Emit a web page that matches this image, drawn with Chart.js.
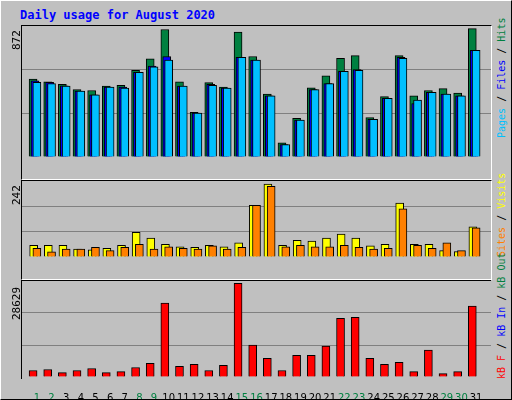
<!DOCTYPE html>
<html>
<head>
<meta charset="utf-8">
<script src="https://cdn.jsdelivr.net/npm/chart.js@4"></script>
<style>
  body { margin: 0; background: #fff; }
  #frame { position: absolute; left: 0; top: 0; width: 510px; height: 398px; background: #c0c0c0;
           border: 1px solid #000; border-top-color: #fff; border-left-color: #fff; }
  .panel { position: absolute; left: 20px; width: 469px; border: 1px solid #000;
           border-right-color: #fff; border-bottom-color: #fff; background: #c0c0c0; }
  .panel canvas { position: absolute; left: 0; top: 0; }
  .vlab { position: absolute; font: 10px "DejaVu Sans Mono", monospace; white-space: nowrap;
          transform-origin: left top; transform: rotate(-90deg); }
  #title { position: absolute; left: 19px; top: 7px; font: bold 12px "DejaVu Sans Mono", monospace; color: #0000ff; }
</style>
</head>
<body>
<div id="frame">
  <div id="title">Daily usage for August 2020</div>
  <div class="panel" style="top:24px;height:153px"><canvas id="c1" width="469" height="153"></canvas></div>
  <div class="panel" style="top:179px;height:98px"><canvas id="c2" width="469" height="98"></canvas></div>
  <div class="panel" style="top:279px;height:98px;border-bottom:none;border-right:none"></div>
  <canvas id="c3" width="469" height="118" style="position:absolute;left:21px;top:280px"></canvas>

  <div class="vlab" style="left:9px;top:49px;font-size:11px">872</div>
  <div class="vlab" style="left:9px;top:204px;font-size:11px">242</div>
  <div class="vlab" style="left:9px;top:319px;font-size:11px">28629</div>
  <div class="vlab" style="left:495px;top:137px"><span style="color:#00c0ff">Pages</span> / <span style="color:#0000ff">Files</span> / <span style="color:#008040">Hits</span></div>
  <div class="vlab" style="left:495px;top:256px"><span style="color:#ff8000">Sites</span> / <span style="color:#ffff00">Visits</span></div>
  <div class="vlab" style="left:495px;top:378px"><span style="color:#ff0000">kB F</span> / <span style="color:#0000ff">kB In</span> / <span style="color:#008040">kB Out</span></div>
</div>
<script>
const days = ['1','2','3','4','5','6','7','8','9','10','11','12','13','14','15','16','17','18','19','20','21','22','23','24','25','26','27','28','29','30','31']
const weekend = [1, 2, 8, 9, 15, 16, 22, 23, 29, 30]
const hits = [529,511,493,458,452,481,487,588,667,866,511,304,505,475,848,683,428,97,262,470,552,671,689,268,410,689,416,452,464,434,872]
const files = [517,507,483,448,422,475,475,576,618,683,481,298,493,469,677,659,416,85,251,458,499,582,594,256,399,677,363,440,428,416,724]
const pages = [507,499,481,448,422,475,469,576,612,659,481,298,487,469,677,659,416,85,251,458,499,582,588,256,399,671,387,440,428,416,724]
const visits = [39,39,39,26,24,29,39,82,63,42,34,32,39,34,47,171,242,39,55,53,63,76,63,37,42,179,42,42,21,18,100]
const sites = [29,17,26,26,32,21,32,42,26,34,29,26,37,26,32,171,234,34,39,34,34,39,32,26,29,160,39,29,47,21,97]
const kbF = [1978,2290,1353,1978,2602,1353,1666,2915,4164,22590,3227,3852,1978,3539,28629,9785,5726,1978,6662,6662,9473,17905,18217,5726,3852,4476,1666,8224,1041,1666,21653]

const pts = (vals, off) => vals.map((v, i) => ({ x: i + 1 + off, y: v }))
const ds = (vals, off, color, order) => ({
    data: pts(vals, off), backgroundColor: color, borderColor: '#000', borderWidth: 1,
    barThickness: 8, order: order, grouped: false,
})

function makeChart(id, datasets, max, showDays) {
    return new Chart(document.getElementById(id), {
        type: 'bar',
        data: { datasets: datasets },
        options: {
            responsive: false, animation: false,
            layout: { padding: 0 },
            plugins: { legend: { display: false }, tooltip: { enabled: false } },
            scales: {
                x: {
                    type: 'linear', min: 0.5, max: 31.5,
                    display: showDays,
                    grid: { display: false }, border: { display: false },
                    afterBuildTicks: s => { s.ticks = days.map((d, i) => ({ value: i + 1 })) },
                    afterFit: s => { s.height = 22 },
                    ticks: {
                        autoSkip: false, maxRotation: 0, padding: 7,
                        font: { family: 'DejaVu Sans', size: 10 },
                        callback: v => days[v - 1],
                        color: c => weekend.includes(c.tick.value) ? '#008040' : '#000',
                    },
                },
                y: {
                    min: 0, max: max,
                    afterFit: s => { s.width = 0 },
                    afterBuildTicks: s => { s.ticks = [0, 1, 2, 3].map(k => ({ value: max * k / 3 })) },
                    ticks: { display: false },
                    border: { display: false },
                    grid: { color: c => (c.index === 1 || c.index === 2) ? '#808080' : 'rgba(0,0,0,0)', lineWidth: 1, drawTicks: false },
                },
            },
        },
    })
}

makeChart('c1', [
    ds(hits, -0.26, '#008040', 3),
    ds(files, -0.13, '#0000ff', 2),
    ds(pages, 0, '#00c0ff', 1),
], 890, false)

makeChart('c2', [
    ds(visits, -0.22, '#ffff00', 2),
    ds(sites, 0, '#ff8000', 1),
], 252, false)

makeChart('c3', [
    ds(kbF, -0.26, '#ff0000', 1),
], 29350, true)
</script>
</body>
</html>
